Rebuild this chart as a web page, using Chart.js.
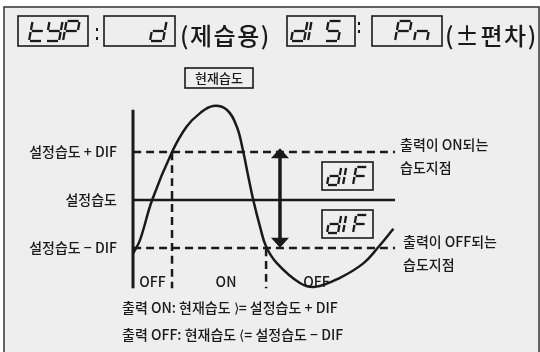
<!DOCTYPE html>
<html>
<head>
<meta charset="utf-8">
<script src="https://cdn.jsdelivr.net/npm/chart.js@4/dist/chart.umd.min.js"></script>
<style>
body{margin:0;background:#fff;}
canvas{display:block;}
</style>
</head>
<body>
<canvas id="humChart" width="540" height="352"></canvas>
<script>

/* 데이터 */

var timeSteps=[0,2.7,7.3,14.9,20.5,25.6,30.6,35.8,39.6,42.1,44.0,45.9,48.5,50.8,54.8,63.7,69.5,79.0,87.9,93.5,99.4];
var humidity=[38.8,41.7,50,60,65.3,68.1,69.6,68.8,65.3,60,54.9,50,44.4,40.3,36.9,32.7,31.9,33.8,36.8,40.1,44];

var setPoint=50;
var dif=10;
var onTime=14.9;
var offTime=50.8;
var axisRange=[31.6,68.8];
var arrowTime=56.1;
var arrowRange=[59.3,41.5];

var regionLabels=['OFF','ON','OFF'];
var regionTimes=[7.4,35.5,70];
var regionLevel=32.9;

var levelLabels=['설정습도 + DIF','설정습도','설정습도 − DIF'];
var levelValues=[setPoint+dif,setPoint,setPoint-dif];


var FONT='"Noto Sans CJK KR", "Noto Sans", sans-serif';
var INK='#1a1a1a';

function pts(xs,ys){
var out=[];
for(var i=0;i<xs.length;i++){
out.push({x:xs[i],y:ys[i]});
}
return out;
}

function seg(data,width,dash){
return {data:data,showLine:true,borderColor:INK,borderWidth:width,borderDash:dash||[],pointRadius:0,clip:false,fill:false};
}


/* 7세그먼트 표시 */

var SEGS={t:'fged',Y:'fbgcd',P:'abfge',d:'bcdeg',I:'ef',S:'afgcd',n:'egc',F:'afge'};

function drawChar(ctx,x,y,w,h,ch){
var k=0.18,g=1;
var map={
a:[[0,h],[w,h]],b:[[w,h],[w,h/2]],c:[[w,h/2],[w,0]],d:[[0,0],[w,0]],
e:[[0,h/2],[0,0]],f:[[0,h],[0,h/2]],g:[[0,h/2],[w,h/2]]
};
var list=SEGS[ch]||'';
ctx.save();
ctx.strokeStyle=INK;
ctx.lineWidth=2.3;
ctx.lineCap='butt';
for(var i=0;i<list.length;i++){
var s=map[list[i]];
var x1=s[0][0],y1=s[0][1],x2=s[1][0],y2=s[1][1];
var len=Math.hypot(x2-x1,y2-y1);
var dx=(x2-x1)/len*g,dy=(y2-y1)/len*g;
x1+=dx;y1+=dy;x2-=dx;y2-=dy;
ctx.beginPath();
ctx.moveTo(x+x1+y1*k,y-y1);
ctx.lineTo(x+x2+y2*k,y-y2);
ctx.stroke();
}
ctx.restore();
}

function drawBox(ctx,x,y,w,h){
ctx.save();
ctx.strokeStyle=INK;
ctx.lineWidth=1.6;
ctx.strokeRect(x,y,w,h);
ctx.restore();
}

function drawWord(ctx,chars,xs,y,w,h){
for(var i=0;i<chars.length;i++){
drawChar(ctx,xs[i],y,w,h,chars[i]);
}
}

function text(ctx,str,x,y,size,align,spacing){
ctx.save();
ctx.fillStyle=INK;
ctx.font='500 '+size+'px '+FONT;
ctx.textAlign=align||'left';
ctx.textBaseline='middle';
if(spacing){ctx.letterSpacing=spacing+'px';}
ctx.fillText(str,x,y);
ctx.restore();
}


var diagram={
id:'diagram',
beforeDraw:function(chart){
var ctx=chart.ctx;
ctx.save();
ctx.fillStyle='#fff';
ctx.fillRect(0,0,540,352);
ctx.fillStyle='#eeeeee';
ctx.fillRect(4,7,535,350);
ctx.strokeStyle='#333';
ctx.lineWidth=1.5;
ctx.strokeRect(4,7,535,350);
ctx.restore();
},
afterDatasetsDraw:function(chart){
var ctx=chart.ctx;
var xs=chart.scales.x,ys=chart.scales.y;
var area=chart.chartArea;

/* 상단 표시부 */
drawBox(ctx,18,16,70,30);
drawWord(ctx,['t','Y','P'],[29,46,63],41,13,20);
ctx.fillStyle=INK;
ctx.fillRect(96,28,2,3);
ctx.fillRect(96,37,2,3);
drawBox(ctx,104,16,71,30);
drawWord(ctx,['d'],[150],41,13,20);
text(ctx,'(제습용)',180,36,24,'left',1.5);

drawBox(ctx,287,16,68,30);
drawWord(ctx,['d','I','S'],[291,308,325],41,13,20);
ctx.fillStyle=INK;
ctx.fillRect(358,22,2,3);
ctx.fillRect(358,30,2,3);
drawBox(ctx,372,16,70,30);
drawWord(ctx,['P','n'],[395,414],41,13,20);
text(ctx,'(±편차)',445,36,24,'left',1.5);

drawBox(ctx,185,68,68,20);
text(ctx,'현재습도',219,78.5,13,'center');

/* 화살표 */
var meta=chart.getDatasetMeta(chart.data.datasets.length-1);
var p0=meta.data[0],p1=meta.data[1];
ctx.save();
ctx.fillStyle=INK;
ctx.beginPath();
ctx.moveTo(p0.x,p0.y-7);
ctx.lineTo(p0.x+9,p0.y+3);
ctx.lineTo(p0.x-9,p0.y+3);
ctx.closePath();
ctx.fill();
ctx.beginPath();
ctx.moveTo(p1.x,p1.y+7);
ctx.lineTo(p1.x+9,p1.y-3);
ctx.lineTo(p1.x-9,p1.y-3);
ctx.closePath();
ctx.fill();
ctx.restore();

/* dIF 상자 */
var yu=ys.getPixelForValue(setPoint+dif/2);
var yl=ys.getPixelForValue(setPoint-dif/2);
drawBox(ctx,322,yu-14,51,28);
drawWord(ctx,['d','I','F'],[327,343,353],yu+9,11,18);
drawBox(ctx,322,yl-14,51,28);
drawWord(ctx,['d','I','F'],[327,343,353],yl+9,11,18);

/* 레벨 라벨 */
for(var i=0;i<levelLabels.length;i++){
text(ctx,levelLabels[i],area.left-16,ys.getPixelForValue(levelValues[i]),14,'right');
}
var yOn=ys.getPixelForValue(setPoint+dif);
var yOff=ys.getPixelForValue(setPoint-dif);
text(ctx,'출력이 ON되는',area.right+5,yOn-7,14);
text(ctx,'습도지점',area.right+5,yOn+16,14);
text(ctx,'출력이 OFF되는',area.right+8,yOff-6,14);
text(ctx,'습도지점',area.right+8,yOff+17,14);

/* 구간 라벨 */
for(var j=0;j<regionLabels.length;j++){
text(ctx,regionLabels[j],xs.getPixelForValue(regionTimes[j]),ys.getPixelForValue(regionLevel),14,'center');
}

text(ctx,'출력 ON: 현재습도 ⟩= 설정습도 + DIF',122,308,14);
text(ctx,'출력 OFF: 현재습도 ⟨= 설정습도 − DIF',122,335,14);
}
};


const ctx=document.getElementById('humChart');

new Chart(ctx,{

type:'scatter',

data:{
datasets:[
seg(pts(timeSteps,humidity),2.5),
seg([{x:0,y:axisRange[0]},{x:0,y:axisRange[1]}],3),
seg([{x:0,y:setPoint},{x:100,y:setPoint}],2.5),
seg([{x:0,y:setPoint+dif},{x:100,y:setPoint+dif}],2.5,[8,5]),
seg([{x:0,y:setPoint-dif},{x:100,y:setPoint-dif}],2.5,[8,5]),
seg([{x:onTime,y:setPoint+dif},{x:onTime,y:axisRange[0]}],2.5,[8,5]),
seg([{x:offTime,y:setPoint-dif},{x:offTime,y:axisRange[0]}],2.5,[8,5]),
seg([{x:arrowTime,y:arrowRange[0]},{x:arrowTime,y:arrowRange[1]}],3.5)
]
},

options:{
responsive:false,
animation:false,
events:[],
layout:{padding:{left:133,right:145,top:104,bottom:60.8}},
plugins:{legend:{display:false},tooltip:{enabled:false}},
elements:{line:{tension:0.4}},
scales:{
x:{type:'linear',display:false,min:0,max:100},
y:{type:'linear',display:false,min:31,max:70}
}
},

plugins:[diagram]

});

</script>
</body>
</html>
